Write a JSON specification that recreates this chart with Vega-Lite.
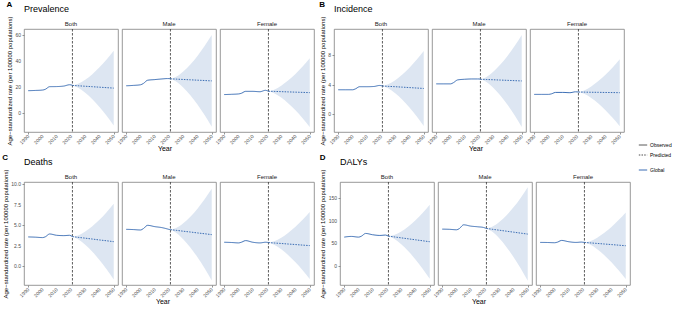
{
"$schema":"https://vega.github.io/schema/vega-lite/v6.json",
"padding":{"left":2,"top":1,"right":0,"bottom":0},
"config":{
 "font":"Liberation Sans",
 "view":{"stroke":"#7f7f7f","strokeWidth":0.8},
 "concat":{"spacing":4},
 "axis":{"grid":false,"domain":false,"labelFontSize":5,"labelOpacity":0,"tickColor":"#4d4d4d","tickSize":2,"tickWidth":0.6,"titleFontSize":7,"titleFontWeight":"normal","titleColor":"#000000","labelPadding":1,"labelOverlap":false,"labelBound":false,"labelFlush":false},
 "axisY":{"titleFontSize":6,"titlePadding":3},
 "header":{"labelFontSize":6,"labelColor":"#1a1a1a","labelPadding":2,"titleFontSize":7,"titleFontWeight":"normal","titleColor":"#000000","titlePadding":-10,"titleOrient":"bottom","labelOrient":"top"},
 "title":{"anchor":"start","fontWeight":"normal","color":"#000000"},
 "text":{"fontSize":5,"color":"#4d4d4d"},
 "legend":{"labelFontSize":5,"labelColor":"#000000","labelOffset":2,"symbolType":"stroke","symbolSize":70,"symbolStrokeWidth":1,"rowPadding":2}
},
"data":{"values":[
{"m":"Prevalence","s":"Both","t":"Observed","year":1990,"v":17.2},
{"m":"Prevalence","s":"Both","t":"Observed","year":1995,"v":17.4},
{"m":"Prevalence","s":"Both","t":"Observed","year":2000,"v":17.7},
{"m":"Prevalence","s":"Both","t":"Observed","year":2002,"v":18.3},
{"m":"Prevalence","s":"Both","t":"Observed","year":2005,"v":20.3},
{"m":"Prevalence","s":"Both","t":"Observed","year":2010,"v":20.4},
{"m":"Prevalence","s":"Both","t":"Observed","year":2015,"v":20.8},
{"m":"Prevalence","s":"Both","t":"Observed","year":2019,"v":21.8},
{"m":"Prevalence","s":"Both","t":"Observed","year":2020,"v":21.7},
{"m":"Prevalence","s":"Both","t":"Observed","year":2021,"v":21.3},
{"m":"Prevalence","s":"Both","t":"Predicted","year":2021,"v":21.3,"lo":21.3,"hi":21.3},
{"m":"Prevalence","s":"Both","t":"Predicted","year":2025,"v":21.01,"lo":19.53,"hi":22.49},
{"m":"Prevalence","s":"Both","t":"Predicted","year":2030,"v":20.65,"lo":15.63,"hi":25.67},
{"m":"Prevalence","s":"Both","t":"Predicted","year":2035,"v":20.29,"lo":10.55,"hi":30.03},
{"m":"Prevalence","s":"Both","t":"Predicted","year":2040,"v":19.92,"lo":4.55,"hi":35.29},
{"m":"Prevalence","s":"Both","t":"Predicted","year":2045,"v":19.56,"lo":-2.28,"hi":41.4},
{"m":"Prevalence","s":"Both","t":"Predicted","year":2050,"v":19.2,"lo":-9.8,"hi":48.2},
{"m":"Prevalence","s":"Male","t":"Observed","year":1990,"v":21.0},
{"m":"Prevalence","s":"Male","t":"Observed","year":1995,"v":21.3},
{"m":"Prevalence","s":"Male","t":"Observed","year":2000,"v":21.8},
{"m":"Prevalence","s":"Male","t":"Observed","year":2002,"v":22.8},
{"m":"Prevalence","s":"Male","t":"Observed","year":2005,"v":25.3},
{"m":"Prevalence","s":"Male","t":"Observed","year":2010,"v":25.8},
{"m":"Prevalence","s":"Male","t":"Observed","year":2015,"v":26.3},
{"m":"Prevalence","s":"Male","t":"Observed","year":2019,"v":26.6},
{"m":"Prevalence","s":"Male","t":"Observed","year":2020,"v":26.6},
{"m":"Prevalence","s":"Male","t":"Observed","year":2021,"v":26.4},
{"m":"Prevalence","s":"Male","t":"Predicted","year":2021,"v":26.4,"lo":26.4,"hi":26.4},
{"m":"Prevalence","s":"Male","t":"Predicted","year":2025,"v":26.18,"lo":24.37,"hi":27.99},
{"m":"Prevalence","s":"Male","t":"Predicted","year":2030,"v":25.9,"lo":19.76,"hi":32.04},
{"m":"Prevalence","s":"Male","t":"Predicted","year":2035,"v":25.63,"lo":13.7,"hi":37.56},
{"m":"Prevalence","s":"Male","t":"Predicted","year":2040,"v":25.35,"lo":6.53,"hi":44.17},
{"m":"Prevalence","s":"Male","t":"Predicted","year":2045,"v":25.08,"lo":-1.65,"hi":51.81},
{"m":"Prevalence","s":"Male","t":"Predicted","year":2050,"v":24.8,"lo":-10.7,"hi":60.3},
{"m":"Prevalence","s":"Female","t":"Observed","year":1990,"v":14.2},
{"m":"Prevalence","s":"Female","t":"Observed","year":1995,"v":14.4},
{"m":"Prevalence","s":"Female","t":"Observed","year":2000,"v":14.7},
{"m":"Prevalence","s":"Female","t":"Observed","year":2002,"v":15.2},
{"m":"Prevalence","s":"Female","t":"Observed","year":2005,"v":16.7},
{"m":"Prevalence","s":"Female","t":"Observed","year":2010,"v":16.7},
{"m":"Prevalence","s":"Female","t":"Observed","year":2015,"v":16.4},
{"m":"Prevalence","s":"Female","t":"Observed","year":2019,"v":17.5},
{"m":"Prevalence","s":"Female","t":"Observed","year":2020,"v":17.2},
{"m":"Prevalence","s":"Female","t":"Observed","year":2021,"v":16.8},
{"m":"Prevalence","s":"Female","t":"Predicted","year":2021,"v":16.8,"lo":16.8,"hi":16.8},
{"m":"Prevalence","s":"Female","t":"Predicted","year":2025,"v":16.65,"lo":15.29,"hi":18.01},
{"m":"Prevalence","s":"Female","t":"Predicted","year":2030,"v":16.46,"lo":11.86,"hi":21.06},
{"m":"Prevalence","s":"Female","t":"Predicted","year":2035,"v":16.27,"lo":7.33,"hi":25.21},
{"m":"Prevalence","s":"Female","t":"Predicted","year":2040,"v":16.08,"lo":1.98,"hi":30.18},
{"m":"Prevalence","s":"Female","t":"Predicted","year":2045,"v":15.89,"lo":-4.14,"hi":35.92},
{"m":"Prevalence","s":"Female","t":"Predicted","year":2050,"v":15.7,"lo":-10.9,"hi":42.3},
{"m":"Incidence","s":"Both","t":"Observed","year":1990,"v":3.28},
{"m":"Incidence","s":"Both","t":"Observed","year":1995,"v":3.28},
{"m":"Incidence","s":"Both","t":"Observed","year":2000,"v":3.28},
{"m":"Incidence","s":"Both","t":"Observed","year":2002,"v":3.4},
{"m":"Incidence","s":"Both","t":"Observed","year":2005,"v":3.7},
{"m":"Incidence","s":"Both","t":"Observed","year":2010,"v":3.7},
{"m":"Incidence","s":"Both","t":"Observed","year":2015,"v":3.73},
{"m":"Incidence","s":"Both","t":"Observed","year":2019,"v":3.87},
{"m":"Incidence","s":"Both","t":"Observed","year":2020,"v":3.85},
{"m":"Incidence","s":"Both","t":"Observed","year":2021,"v":3.8},
{"m":"Incidence","s":"Both","t":"Predicted","year":2021,"v":3.8,"lo":3.8,"hi":3.8},
{"m":"Incidence","s":"Both","t":"Predicted","year":2025,"v":3.75,"lo":3.49,"hi":4.02},
{"m":"Incidence","s":"Both","t":"Predicted","year":2030,"v":3.7,"lo":2.81,"hi":4.58},
{"m":"Incidence","s":"Both","t":"Predicted","year":2035,"v":3.64,"lo":1.91,"hi":5.36},
{"m":"Incidence","s":"Both","t":"Predicted","year":2040,"v":3.58,"lo":0.86,"hi":6.3},
{"m":"Incidence","s":"Both","t":"Predicted","year":2045,"v":3.52,"lo":-0.35,"hi":7.38},
{"m":"Incidence","s":"Both","t":"Predicted","year":2050,"v":3.46,"lo":-1.67,"hi":8.59},
{"m":"Incidence","s":"Male","t":"Observed","year":1990,"v":4.09},
{"m":"Incidence","s":"Male","t":"Observed","year":1995,"v":4.09},
{"m":"Incidence","s":"Male","t":"Observed","year":2000,"v":4.09},
{"m":"Incidence","s":"Male","t":"Observed","year":2002,"v":4.25},
{"m":"Incidence","s":"Male","t":"Observed","year":2005,"v":4.63},
{"m":"Incidence","s":"Male","t":"Observed","year":2010,"v":4.72},
{"m":"Incidence","s":"Male","t":"Observed","year":2015,"v":4.76},
{"m":"Incidence","s":"Male","t":"Observed","year":2019,"v":4.76},
{"m":"Incidence","s":"Male","t":"Observed","year":2020,"v":4.76},
{"m":"Incidence","s":"Male","t":"Observed","year":2021,"v":4.72},
{"m":"Incidence","s":"Male","t":"Predicted","year":2021,"v":4.72,"lo":4.72,"hi":4.72},
{"m":"Incidence","s":"Male","t":"Predicted","year":2025,"v":4.69,"lo":4.37,"hi":5.01},
{"m":"Incidence","s":"Male","t":"Predicted","year":2030,"v":4.65,"lo":3.56,"hi":5.74},
{"m":"Incidence","s":"Male","t":"Predicted","year":2035,"v":4.61,"lo":2.49,"hi":6.73},
{"m":"Incidence","s":"Male","t":"Predicted","year":2040,"v":4.57,"lo":1.23,"hi":7.91},
{"m":"Incidence","s":"Male","t":"Predicted","year":2045,"v":4.53,"lo":-0.21,"hi":9.27},
{"m":"Incidence","s":"Male","t":"Predicted","year":2050,"v":4.49,"lo":-1.81,"hi":10.79},
{"m":"Incidence","s":"Female","t":"Observed","year":1990,"v":2.65},
{"m":"Incidence","s":"Female","t":"Observed","year":1995,"v":2.65},
{"m":"Incidence","s":"Female","t":"Observed","year":2000,"v":2.65},
{"m":"Incidence","s":"Female","t":"Observed","year":2002,"v":2.72},
{"m":"Incidence","s":"Female","t":"Observed","year":2005,"v":2.92},
{"m":"Incidence","s":"Female","t":"Observed","year":2010,"v":2.92},
{"m":"Incidence","s":"Female","t":"Observed","year":2015,"v":2.88},
{"m":"Incidence","s":"Female","t":"Observed","year":2019,"v":3.0},
{"m":"Incidence","s":"Female","t":"Observed","year":2020,"v":2.99},
{"m":"Incidence","s":"Female","t":"Observed","year":2021,"v":2.97},
{"m":"Incidence","s":"Female","t":"Predicted","year":2021,"v":2.97,"lo":2.97,"hi":2.97},
{"m":"Incidence","s":"Female","t":"Predicted","year":2025,"v":2.96,"lo":2.72,"hi":3.19},
{"m":"Incidence","s":"Female","t":"Predicted","year":2030,"v":2.94,"lo":2.15,"hi":3.73},
{"m":"Incidence","s":"Female","t":"Predicted","year":2035,"v":2.93,"lo":1.39,"hi":4.47},
{"m":"Incidence","s":"Female","t":"Predicted","year":2040,"v":2.91,"lo":0.48,"hi":5.34},
{"m":"Incidence","s":"Female","t":"Predicted","year":2045,"v":2.9,"lo":-0.55,"hi":6.34},
{"m":"Incidence","s":"Female","t":"Predicted","year":2050,"v":2.88,"lo":-1.7,"hi":7.46},
{"m":"Deaths","s":"Both","t":"Observed","year":1990,"v":3.58},
{"m":"Deaths","s":"Both","t":"Observed","year":1995,"v":3.55},
{"m":"Deaths","s":"Both","t":"Observed","year":2000,"v":3.5},
{"m":"Deaths","s":"Both","t":"Observed","year":2002,"v":3.6},
{"m":"Deaths","s":"Both","t":"Observed","year":2005,"v":3.94},
{"m":"Deaths","s":"Both","t":"Observed","year":2010,"v":3.78},
{"m":"Deaths","s":"Both","t":"Observed","year":2015,"v":3.74},
{"m":"Deaths","s":"Both","t":"Observed","year":2019,"v":3.78},
{"m":"Deaths","s":"Both","t":"Observed","year":2020,"v":3.72},
{"m":"Deaths","s":"Both","t":"Observed","year":2021,"v":3.62},
{"m":"Deaths","s":"Both","t":"Predicted","year":2021,"v":3.62,"lo":3.62,"hi":3.62},
{"m":"Deaths","s":"Both","t":"Predicted","year":2025,"v":3.53,"lo":3.3,"hi":3.77},
{"m":"Deaths","s":"Both","t":"Predicted","year":2030,"v":3.43,"lo":2.63,"hi":4.23},
{"m":"Deaths","s":"Both","t":"Predicted","year":2035,"v":3.32,"lo":1.77,"hi":4.88},
{"m":"Deaths","s":"Both","t":"Predicted","year":2040,"v":3.21,"lo":0.76,"hi":5.67},
{"m":"Deaths","s":"Both","t":"Predicted","year":2045,"v":3.11,"lo":-0.38,"hi":6.59},
{"m":"Deaths","s":"Both","t":"Predicted","year":2050,"v":3.0,"lo":-1.63,"hi":7.63},
{"m":"Deaths","s":"Male","t":"Observed","year":1990,"v":4.51},
{"m":"Deaths","s":"Male","t":"Observed","year":1995,"v":4.48},
{"m":"Deaths","s":"Male","t":"Observed","year":2000,"v":4.43},
{"m":"Deaths","s":"Male","t":"Observed","year":2002,"v":4.6},
{"m":"Deaths","s":"Male","t":"Observed","year":2005,"v":5.0},
{"m":"Deaths","s":"Male","t":"Observed","year":2010,"v":4.84},
{"m":"Deaths","s":"Male","t":"Observed","year":2015,"v":4.72},
{"m":"Deaths","s":"Male","t":"Observed","year":2019,"v":4.55},
{"m":"Deaths","s":"Male","t":"Observed","year":2020,"v":4.5},
{"m":"Deaths","s":"Male","t":"Observed","year":2021,"v":4.47},
{"m":"Deaths","s":"Male","t":"Predicted","year":2021,"v":4.47,"lo":4.47,"hi":4.47},
{"m":"Deaths","s":"Male","t":"Predicted","year":2025,"v":4.39,"lo":4.1,"hi":4.67},
{"m":"Deaths","s":"Male","t":"Predicted","year":2030,"v":4.28,"lo":3.31,"hi":5.25},
{"m":"Deaths","s":"Male","t":"Predicted","year":2035,"v":4.18,"lo":2.29,"hi":6.06},
{"m":"Deaths","s":"Male","t":"Predicted","year":2040,"v":4.07,"lo":1.1,"hi":7.04},
{"m":"Deaths","s":"Male","t":"Predicted","year":2045,"v":3.97,"lo":-0.25,"hi":8.18},
{"m":"Deaths","s":"Male","t":"Predicted","year":2050,"v":3.86,"lo":-1.74,"hi":9.46},
{"m":"Deaths","s":"Female","t":"Observed","year":1990,"v":2.93},
{"m":"Deaths","s":"Female","t":"Observed","year":1995,"v":2.9},
{"m":"Deaths","s":"Female","t":"Observed","year":2000,"v":2.85},
{"m":"Deaths","s":"Female","t":"Observed","year":2002,"v":2.93},
{"m":"Deaths","s":"Female","t":"Observed","year":2005,"v":3.13},
{"m":"Deaths","s":"Female","t":"Observed","year":2010,"v":2.93},
{"m":"Deaths","s":"Female","t":"Observed","year":2015,"v":2.85},
{"m":"Deaths","s":"Female","t":"Observed","year":2019,"v":2.93},
{"m":"Deaths","s":"Female","t":"Observed","year":2020,"v":2.92},
{"m":"Deaths","s":"Female","t":"Observed","year":2021,"v":2.89},
{"m":"Deaths","s":"Female","t":"Predicted","year":2021,"v":2.89,"lo":2.89,"hi":2.89},
{"m":"Deaths","s":"Female","t":"Predicted","year":2025,"v":2.84,"lo":2.63,"hi":3.05},
{"m":"Deaths","s":"Female","t":"Predicted","year":2030,"v":2.78,"lo":2.07,"hi":3.48},
{"m":"Deaths","s":"Female","t":"Predicted","year":2035,"v":2.71,"lo":1.33,"hi":4.09},
{"m":"Deaths","s":"Female","t":"Predicted","year":2040,"v":2.65,"lo":0.47,"hi":4.82},
{"m":"Deaths","s":"Female","t":"Predicted","year":2045,"v":2.58,"lo":-0.5,"hi":5.67},
{"m":"Deaths","s":"Female","t":"Predicted","year":2050,"v":2.52,"lo":-1.58,"hi":6.62},
{"m":"DALYs","s":"Both","t":"Observed","year":1990,"v":63.5},
{"m":"DALYs","s":"Both","t":"Observed","year":1995,"v":65},
{"m":"DALYs","s":"Both","t":"Observed","year":2000,"v":63.5},
{"m":"DALYs","s":"Both","t":"Observed","year":2002,"v":65.5},
{"m":"DALYs","s":"Both","t":"Observed","year":2005,"v":71.6},
{"m":"DALYs","s":"Both","t":"Observed","year":2010,"v":68.7},
{"m":"DALYs","s":"Both","t":"Observed","year":2015,"v":67.2},
{"m":"DALYs","s":"Both","t":"Observed","year":2019,"v":68},
{"m":"DALYs","s":"Both","t":"Observed","year":2020,"v":67},
{"m":"DALYs","s":"Both","t":"Observed","year":2021,"v":65.7},
{"m":"DALYs","s":"Both","t":"Predicted","year":2021,"v":65.7,"lo":65.7,"hi":65.7},
{"m":"DALYs","s":"Both","t":"Predicted","year":2025,"v":63.98,"lo":59.78,"hi":68.18},
{"m":"DALYs","s":"Both","t":"Predicted","year":2030,"v":61.83,"lo":47.59,"hi":76.07},
{"m":"DALYs","s":"Both","t":"Predicted","year":2035,"v":59.66,"lo":32.01,"hi":87.31},
{"m":"DALYs","s":"Both","t":"Predicted","year":2040,"v":57.51,"lo":13.89,"hi":101.13},
{"m":"DALYs","s":"Both","t":"Predicted","year":2045,"v":55.35,"lo":-6.62,"hi":117.32},
{"m":"DALYs","s":"Both","t":"Predicted","year":2050,"v":53.2,"lo":-29.1,"hi":135.5},
{"m":"DALYs","s":"Male","t":"Observed","year":1990,"v":81.2},
{"m":"DALYs","s":"Male","t":"Observed","year":1995,"v":80.8},
{"m":"DALYs","s":"Male","t":"Observed","year":2000,"v":79.8},
{"m":"DALYs","s":"Male","t":"Observed","year":2002,"v":82.5},
{"m":"DALYs","s":"Male","t":"Observed","year":2005,"v":90.8},
{"m":"DALYs","s":"Male","t":"Observed","year":2010,"v":87.9},
{"m":"DALYs","s":"Male","t":"Observed","year":2015,"v":86.4},
{"m":"DALYs","s":"Male","t":"Observed","year":2019,"v":84.9},
{"m":"DALYs","s":"Male","t":"Observed","year":2020,"v":83.8},
{"m":"DALYs","s":"Male","t":"Observed","year":2021,"v":82.7},
{"m":"DALYs","s":"Male","t":"Predicted","year":2021,"v":82.7,"lo":82.7,"hi":82.7},
{"m":"DALYs","s":"Male","t":"Predicted","year":2025,"v":80.98,"lo":75.68,"hi":86.28},
{"m":"DALYs","s":"Male","t":"Predicted","year":2030,"v":78.83,"lo":60.84,"hi":96.82},
{"m":"DALYs","s":"Male","t":"Predicted","year":2035,"v":76.66,"lo":41.72,"hi":111.6},
{"m":"DALYs","s":"Male","t":"Predicted","year":2040,"v":74.51,"lo":19.39,"hi":129.63},
{"m":"DALYs","s":"Male","t":"Predicted","year":2045,"v":72.35,"lo":-5.96,"hi":150.66},
{"m":"DALYs","s":"Male","t":"Predicted","year":2050,"v":70.2,"lo":-33.8,"hi":174.2},
{"m":"DALYs","s":"Female","t":"Observed","year":1990,"v":51.7},
{"m":"DALYs","s":"Female","t":"Observed","year":1995,"v":51.5},
{"m":"DALYs","s":"Female","t":"Observed","year":2000,"v":51},
{"m":"DALYs","s":"Female","t":"Observed","year":2002,"v":52.2},
{"m":"DALYs","s":"Female","t":"Observed","year":2005,"v":56.1},
{"m":"DALYs","s":"Female","t":"Observed","year":2010,"v":53.2},
{"m":"DALYs","s":"Female","t":"Observed","year":2015,"v":51.7},
{"m":"DALYs","s":"Female","t":"Observed","year":2019,"v":52.4},
{"m":"DALYs","s":"Female","t":"Observed","year":2020,"v":52},
{"m":"DALYs","s":"Female","t":"Observed","year":2021,"v":51.7},
{"m":"DALYs","s":"Female","t":"Predicted","year":2021,"v":51.7,"lo":51.7,"hi":51.7},
{"m":"DALYs","s":"Female","t":"Predicted","year":2025,"v":50.68,"lo":46.91,"hi":54.45},
{"m":"DALYs","s":"Female","t":"Predicted","year":2030,"v":49.41,"lo":36.61,"hi":62.21},
{"m":"DALYs","s":"Female","t":"Predicted","year":2035,"v":48.13,"lo":23.27,"hi":72.99},
{"m":"DALYs","s":"Female","t":"Predicted","year":2040,"v":46.85,"lo":7.63,"hi":86.07},
{"m":"DALYs","s":"Female","t":"Predicted","year":2045,"v":45.57,"lo":-10.15,"hi":101.29},
{"m":"DALYs","s":"Female","t":"Predicted","year":2050,"v":44.3,"lo":-29.7,"hi":118.3}
]},
"spacing":2,
"vconcat":[
{"spacing":4,"hconcat":[
 {"title":{"text":"A","fontSize":8,"fontWeight":"bold","frame":"bounds","offset":-4},
  "vconcat":[{
   "title":{"text":"Prevalence","fontSize":9,"frame":"group","offset":2},
   "transform":[{"filter":{"field":"m","equal":"Prevalence"}}],
   "facet":{"column":{"field":"s","sort":["Both","Male","Female"],"title":"Year"}},
   "spacing":{"column":4},"bounds":"flush",
   "spec":{"width":94,"height":103,"layer":[
    {"transform":[{"filter":{"field":"t","equal":"Predicted"}}],
     "mark":{"type":"area","color":"#dde6f2","interpolate":"monotone"},
     "encoding":{"x":{"field":"year","type":"quantitative","scale":{"domain":[1987,2053],"nice":false,"zero":false},"axis":{"values":[1990,2000,2010,2020,2030,2040,2050],"format":"d","labelAngle":-45,"labelAlign":"right","labelBaseline":"middle","title":null}},
      "y":{"field":"lo","type":"quantitative","scale":{"domain":[-14.8,65],"nice":false,"zero":false},"axis":{"values":[0,20,40,60],"title":"Age−standardized rate (per 100000 populations)"}},
      "y2":{"field":"hi"}}},
    {"transform":[{"filter":"datum.t=='Observed' && datum.year==2021"}],
     "mark":{"type":"rule","color":"#333333","strokeDash":[2.5,1.5],"strokeWidth":0.8},
     "encoding":{"x":{"field":"year","type":"quantitative"}}},
    {"mark":{"type":"line","strokeWidth":1,"interpolate":"monotone"},
     "encoding":{"x":{"field":"year","type":"quantitative"},"y":{"field":"v","type":"quantitative"},
      "strokeDash":{"field":"t","type":"nominal","scale":{"domain":["Observed","Predicted"],"range":[[1,0],[1.5,1.2]]},"legend":{"title":null,"orient":"none","legendX":614,"legendY":111,"symbolStrokeColor":"#4d4d4d"}},
      "color":{"datum":"Global","scale":{"range":["#3a6db4"]},"legend":{"title":null,"orient":"none","legendX":614,"legendY":136}}}},
    {"transform":[{"filter":"(datum.t=='Observed' && (datum.year==1990 || datum.year==2000 || datum.year==2010 || datum.year==2020)) || (datum.t=='Predicted' && (datum.year==2030 || datum.year==2040 || datum.year==2050))"}],
     "mark":{"type":"text","angle":315,"align":"right","baseline":"middle"},
     "encoding":{"x":{"field":"year","type":"quantitative"},"y":{"datum":-17.5},"text":{"field":"year","type":"quantitative","format":"d"}}},
    {"transform":[{"filter":"datum.s=='Both' && datum.t=='Observed' && datum.year==1990"}],"mark":{"type":"text","align":"right","baseline":"middle"},"encoding":{"x":{"datum":1984.9},"y":{"datum":0},"text":{"value":"0"}}},
    {"transform":[{"filter":"datum.s=='Both' && datum.t=='Observed' && datum.year==1990"}],"mark":{"type":"text","align":"right","baseline":"middle"},"encoding":{"x":{"datum":1984.9},"y":{"datum":20},"text":{"value":"20"}}},
    {"transform":[{"filter":"datum.s=='Both' && datum.t=='Observed' && datum.year==1990"}],"mark":{"type":"text","align":"right","baseline":"middle"},"encoding":{"x":{"datum":1984.9},"y":{"datum":40},"text":{"value":"40"}}},
    {"transform":[{"filter":"datum.s=='Both' && datum.t=='Observed' && datum.year==1990"}],"mark":{"type":"text","align":"right","baseline":"middle"},"encoding":{"x":{"datum":1984.9},"y":{"datum":60},"text":{"value":"60"}}}
   ]}
  }]},
 {"title":{"text":"B","fontSize":8,"fontWeight":"bold","frame":"bounds","offset":-4},
  "vconcat":[{
   "title":{"text":"Incidence","fontSize":9,"frame":"group","offset":2},
   "transform":[{"filter":{"field":"m","equal":"Incidence"}}],
   "facet":{"column":{"field":"s","sort":["Both","Male","Female"],"title":"Year"}},
   "spacing":{"column":4},"bounds":"flush",
   "spec":{"width":94,"height":103,"layer":[
    {"transform":[{"filter":{"field":"t","equal":"Predicted"}}],
     "mark":{"type":"area","color":"#dde6f2","interpolate":"monotone"},
     "encoding":{"x":{"field":"year","type":"quantitative","scale":{"domain":[1987,2053],"nice":false,"zero":false},"axis":{"values":[1990,2000,2010,2020,2030,2040,2050],"format":"d","labelAngle":-45,"labelAlign":"right","labelBaseline":"middle","title":null}},
      "y":{"field":"lo","type":"quantitative","scale":{"domain":[-2.5,11.6],"nice":false,"zero":false},"axis":{"values":[0,4,8],"title":"Age−standardized rate (per 100000 populations)"}},
      "y2":{"field":"hi"}}},
    {"transform":[{"filter":"datum.t=='Observed' && datum.year==2021"}],
     "mark":{"type":"rule","color":"#333333","strokeDash":[2.5,1.5],"strokeWidth":0.8},
     "encoding":{"x":{"field":"year","type":"quantitative"}}},
    {"mark":{"type":"line","strokeWidth":1,"interpolate":"monotone"},
     "encoding":{"x":{"field":"year","type":"quantitative"},"y":{"field":"v","type":"quantitative"},
      "strokeDash":{"field":"t","type":"nominal","scale":{"domain":["Observed","Predicted"],"range":[[1,0],[1.5,1.2]]},"legend":{"title":null,"orient":"none","legendX":614,"legendY":111,"symbolStrokeColor":"#4d4d4d"}},
      "color":{"datum":"Global","scale":{"range":["#3a6db4"]},"legend":{"title":null,"orient":"none","legendX":614,"legendY":136}}}},
    {"transform":[{"filter":"(datum.t=='Observed' && (datum.year==1990 || datum.year==2000 || datum.year==2010 || datum.year==2020)) || (datum.t=='Predicted' && (datum.year==2030 || datum.year==2040 || datum.year==2050))"}],
     "mark":{"type":"text","angle":315,"align":"right","baseline":"middle"},
     "encoding":{"x":{"field":"year","type":"quantitative"},"y":{"datum":-2.98},"text":{"field":"year","type":"quantitative","format":"d"}}},
    {"transform":[{"filter":"datum.s=='Both' && datum.t=='Observed' && datum.year==1990"}],"mark":{"type":"text","align":"right","baseline":"middle"},"encoding":{"x":{"datum":1984.9},"y":{"datum":0},"text":{"value":"0"}}},
    {"transform":[{"filter":"datum.s=='Both' && datum.t=='Observed' && datum.year==1990"}],"mark":{"type":"text","align":"right","baseline":"middle"},"encoding":{"x":{"datum":1984.9},"y":{"datum":4},"text":{"value":"4"}}},
    {"transform":[{"filter":"datum.s=='Both' && datum.t=='Observed' && datum.year==1990"}],"mark":{"type":"text","align":"right","baseline":"middle"},"encoding":{"x":{"datum":1984.9},"y":{"datum":8},"text":{"value":"8"}}}
   ]}
  }]}
]},
{"spacing":4,"hconcat":[
 {"title":{"text":"C","fontSize":8,"fontWeight":"bold","frame":"bounds","offset":-4},
  "vconcat":[{
   "title":{"text":"Deaths","fontSize":9,"frame":"group","offset":2},
   "transform":[{"filter":{"field":"m","equal":"Deaths"}}],
   "facet":{"column":{"field":"s","sort":["Both","Male","Female"],"title":"Year"}},
   "spacing":{"column":4},"bounds":"flush",
   "spec":{"width":94,"height":103,"layer":[
    {"transform":[{"filter":{"field":"t","equal":"Predicted"}}],
     "mark":{"type":"area","color":"#dde6f2","interpolate":"monotone"},
     "encoding":{"x":{"field":"year","type":"quantitative","scale":{"domain":[1987,2053],"nice":false,"zero":false},"axis":{"values":[1990,2000,2010,2020,2030,2040,2050],"format":"d","labelAngle":-45,"labelAlign":"right","labelBaseline":"middle","title":null}},
      "y":{"field":"lo","type":"quantitative","scale":{"domain":[-2.3,10.3],"nice":false,"zero":false},"axis":{"values":[0,2.5,5,7.5,10],"format":".1f","title":"Age−standardized rate (per 100000 populations)"}},
      "y2":{"field":"hi"}}},
    {"transform":[{"filter":"datum.t=='Observed' && datum.year==2021"}],
     "mark":{"type":"rule","color":"#333333","strokeDash":[2.5,1.5],"strokeWidth":0.8},
     "encoding":{"x":{"field":"year","type":"quantitative"}}},
    {"mark":{"type":"line","strokeWidth":1,"interpolate":"monotone"},
     "encoding":{"x":{"field":"year","type":"quantitative"},"y":{"field":"v","type":"quantitative"},
      "strokeDash":{"field":"t","type":"nominal","scale":{"domain":["Observed","Predicted"],"range":[[1,0],[1.5,1.2]]},"legend":{"title":null,"orient":"none","legendX":614,"legendY":111,"symbolStrokeColor":"#4d4d4d"}},
      "color":{"datum":"Global","scale":{"range":["#3a6db4"]},"legend":{"title":null,"orient":"none","legendX":614,"legendY":136}}}},
    {"transform":[{"filter":"(datum.t=='Observed' && (datum.year==1990 || datum.year==2000 || datum.year==2010 || datum.year==2020)) || (datum.t=='Predicted' && (datum.year==2030 || datum.year==2040 || datum.year==2050))"}],
     "mark":{"type":"text","angle":315,"align":"right","baseline":"middle"},
     "encoding":{"x":{"field":"year","type":"quantitative"},"y":{"datum":-2.73},"text":{"field":"year","type":"quantitative","format":"d"}}},
    {"transform":[{"filter":"datum.s=='Both' && datum.t=='Observed' && datum.year==1990"}],"mark":{"type":"text","align":"right","baseline":"middle"},"encoding":{"x":{"datum":1984.9},"y":{"datum":0},"text":{"value":"0.0"}}},
    {"transform":[{"filter":"datum.s=='Both' && datum.t=='Observed' && datum.year==1990"}],"mark":{"type":"text","align":"right","baseline":"middle"},"encoding":{"x":{"datum":1984.9},"y":{"datum":2.5},"text":{"value":"2.5"}}},
    {"transform":[{"filter":"datum.s=='Both' && datum.t=='Observed' && datum.year==1990"}],"mark":{"type":"text","align":"right","baseline":"middle"},"encoding":{"x":{"datum":1984.9},"y":{"datum":5},"text":{"value":"5.0"}}},
    {"transform":[{"filter":"datum.s=='Both' && datum.t=='Observed' && datum.year==1990"}],"mark":{"type":"text","align":"right","baseline":"middle"},"encoding":{"x":{"datum":1984.9},"y":{"datum":7.5},"text":{"value":"7.5"}}},
    {"transform":[{"filter":"datum.s=='Both' && datum.t=='Observed' && datum.year==1990"}],"mark":{"type":"text","align":"right","baseline":"middle"},"encoding":{"x":{"datum":1984.9},"y":{"datum":10},"text":{"value":"10.0"}}}
   ]}
  }]},
 {"title":{"text":"D","fontSize":8,"fontWeight":"bold","frame":"bounds","offset":-4},
  "vconcat":[{
   "title":{"text":"DALYs","fontSize":9,"frame":"group","offset":2},
   "transform":[{"filter":{"field":"m","equal":"DALYs"}}],
   "facet":{"column":{"field":"s","sort":["Both","Male","Female"],"title":"Year"}},
   "spacing":{"column":4},"bounds":"flush",
   "spec":{"width":94,"height":103,"layer":[
    {"transform":[{"filter":{"field":"t","equal":"Predicted"}}],
     "mark":{"type":"area","color":"#dde6f2","interpolate":"monotone"},
     "encoding":{"x":{"field":"year","type":"quantitative","scale":{"domain":[1987,2053],"nice":false,"zero":false},"axis":{"values":[1990,2000,2010,2020,2030,2040,2050],"format":"d","labelAngle":-45,"labelAlign":"right","labelBaseline":"middle","title":null}},
      "y":{"field":"lo","type":"quantitative","scale":{"domain":[-43,186],"nice":false,"zero":false},"axis":{"values":[0,50,100,150],"title":"Age−standardized rate (per 100000 populations)"}},
      "y2":{"field":"hi"}}},
    {"transform":[{"filter":"datum.t=='Observed' && datum.year==2021"}],
     "mark":{"type":"rule","color":"#333333","strokeDash":[2.5,1.5],"strokeWidth":0.8},
     "encoding":{"x":{"field":"year","type":"quantitative"}}},
    {"mark":{"type":"line","strokeWidth":1,"interpolate":"monotone"},
     "encoding":{"x":{"field":"year","type":"quantitative"},"y":{"field":"v","type":"quantitative"},
      "strokeDash":{"field":"t","type":"nominal","scale":{"domain":["Observed","Predicted"],"range":[[1,0],[1.5,1.2]]},"legend":{"title":null,"orient":"none","legendX":614,"legendY":111,"symbolStrokeColor":"#4d4d4d"}},
      "color":{"datum":"Global","scale":{"range":["#3a6db4"]},"legend":{"title":null,"orient":"none","legendX":614,"legendY":136}}}},
    {"transform":[{"filter":"(datum.t=='Observed' && (datum.year==1990 || datum.year==2000 || datum.year==2010 || datum.year==2020)) || (datum.t=='Predicted' && (datum.year==2030 || datum.year==2040 || datum.year==2050))"}],
     "mark":{"type":"text","angle":315,"align":"right","baseline":"middle"},
     "encoding":{"x":{"field":"year","type":"quantitative"},"y":{"datum":-50.8},"text":{"field":"year","type":"quantitative","format":"d"}}},
    {"transform":[{"filter":"datum.s=='Both' && datum.t=='Observed' && datum.year==1990"}],"mark":{"type":"text","align":"right","baseline":"middle"},"encoding":{"x":{"datum":1984.9},"y":{"datum":0},"text":{"value":"0"}}},
    {"transform":[{"filter":"datum.s=='Both' && datum.t=='Observed' && datum.year==1990"}],"mark":{"type":"text","align":"right","baseline":"middle"},"encoding":{"x":{"datum":1984.9},"y":{"datum":50},"text":{"value":"50"}}},
    {"transform":[{"filter":"datum.s=='Both' && datum.t=='Observed' && datum.year==1990"}],"mark":{"type":"text","align":"right","baseline":"middle"},"encoding":{"x":{"datum":1984.9},"y":{"datum":100},"text":{"value":"100"}}},
    {"transform":[{"filter":"datum.s=='Both' && datum.t=='Observed' && datum.year==1990"}],"mark":{"type":"text","align":"right","baseline":"middle"},"encoding":{"x":{"datum":1984.9},"y":{"datum":150},"text":{"value":"150"}}}
   ]}
  }]}
]}
]
}
